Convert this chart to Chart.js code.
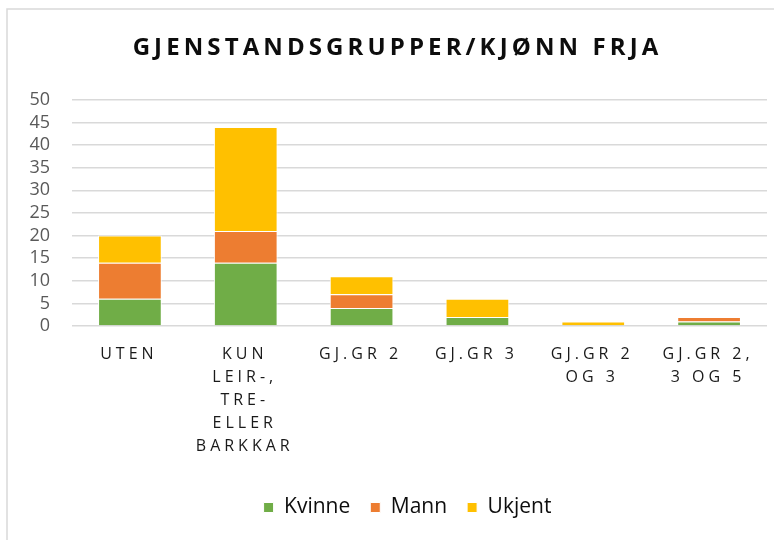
<!DOCTYPE html>
<html>
<head>
<meta charset="utf-8">
<script src="https://cdn.jsdelivr.net/npm/chart.js@4"></script>
<style>
  html, body { margin: 0; padding: 0; background: #fff; }
  #wrap { width: 774px; height: 540px; position: relative; }
</style>
</head>
<body>
<div id="wrap"><canvas id="c" width="774" height="540"></canvas></div>
<script>
const chartTitle = 'GJENSTANDSGRUPPER/KJØNN FRJA';
const categories = [
  ['UTEN'],
  ['KUN', 'LEIR-,', 'TRE-', 'ELLER', 'BARKKAR'],
  ['GJ.GR 2'],
  ['GJ.GR 3'],
  ['GJ.GR 2', 'OG 3'],
  ['GJ.GR 2,', '3 OG 5']
];
const seriesNames = ['Kvinne', 'Mann', 'Ukjent'];
const kvinne = [6, 14, 4, 2, 0, 1];
const mann = [8, 7, 3, 0, 0, 1];
const ukjent = [6, 23, 4, 4, 1, 0];
const seriesColors = ['#70AD47', '#ED7D31', '#FFC000'];
const yTicks = [0, 5, 10, 15, 20, 25, 30, 35, 40, 45, 50];

const FONT = '"Open Sans", sans-serif';

const spacingPlugin = {
  id: 'spacing',
  beforeDraw(chart) {
    const ctx = chart.ctx;
    ctx.save();
    ctx.strokeStyle = '#d9d9d9';
    ctx.lineWidth = 1.5;
    ctx.strokeRect(7, 9, 900, 700);
    ctx.restore();
    if (!chart.$wrapped) {
      chart.$wrapped = true;
      const xs = chart.scales.x;
      const origLabels = xs.drawLabels;
      xs.drawLabels = function (area) {
        const c = this.ctx;
        c.save();
        c.letterSpacing = '4px';
        c.translate(-1, 0);
        origLabels.call(this, area);
        c.restore();
      };
      const tb = chart.titleBlock;
      if (tb) {
        const origTitle = tb.draw;
        tb.draw = function () {
          const c = this.ctx;
          c.save();
          c.letterSpacing = '4.1px';
          c.translate(14, 0);
          origTitle.apply(this, arguments);
          c.restore();
        };
      }
      const lg = chart.legend;
      if (lg) {
        const origLegend = lg.draw;
        lg.draw = function () {
          const c = this.ctx;
          c.save();
          c.translate(24, 0);
          origLegend.apply(this, arguments);
          c.restore();
        };
      }
    }
  }
};

const datasets = [kvinne, mann, ukjent].map((vals, i) => ({
  label: seriesNames[i],
  data: vals,
  backgroundColor: seriesColors[i],
  borderColor: '#ffffff',
  borderWidth: 1,
  categoryPercentage: 0.55,
  barPercentage: 1
}));

new Chart(document.getElementById('c'), {
  type: 'bar',
  data: { labels: categories, datasets },
  plugins: [spacingPlugin],
  options: {
    responsive: false,
    animation: false,
    layout: { padding: { left: 0, right: 7, top: 0, bottom: 12 } },
    plugins: {
      title: {
        display: true,
        text: chartTitle,
        color: '#0d0d0d',
        font: { family: FONT, size: 24, weight: 'bold', lineHeight: 1.2 },
        padding: { top: 34, bottom: 37 }
      },
      legend: {
        position: 'bottom',
        labels: {
          boxWidth: 10,
          boxHeight: 10,
          padding: 20,
          color: '#0d0d0d',
          font: { family: FONT, size: 21 }
        }
      },
      tooltip: { enabled: false }
    },
    scales: {
      x: {
        stacked: true,
        grid: { display: false, drawTicks: false },
        border: { display: false },
        ticks: {
          color: '#1a1a1a',
          font: { family: FONT, size: 16, lineHeight: 1.44 },
          padding: 17,
          maxRotation: 0,
          autoSkip: false
        },
        afterFit(scale) { scale.height = 151; }
      },
      y: {
        stacked: true,
        min: 0,
        max: 50,
        afterBuildTicks(scale) { scale.ticks = yTicks.map(v => ({ value: v })); },
        grid: { color: '#d9d9d9', lineWidth: 1.5, drawTicks: false },
        border: { display: false },
        ticks: {
          color: '#595959',
          font: { family: FONT, size: 18 },
          padding: 22,
          autoSkip: false
        },
        afterFit(scale) { scale.width = 72; }
      }
    }
  }
});
</script>
</body>
</html>
